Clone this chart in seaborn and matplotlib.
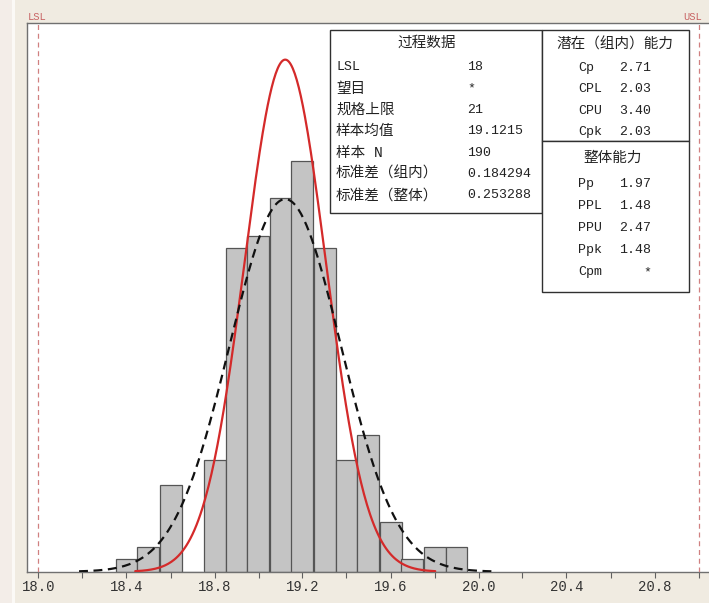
import numpy as np
import pandas as pd
import seaborn as sns
import matplotlib.pyplot as plt
from matplotlib.patches import Rectangle

# ── data ──────────────────────────────────────────────────────────────────────
bin_edges = [18.35, 18.45, 18.55, 18.65, 18.75, 18.85, 18.95, 19.05, 19.15,
             19.25, 19.35, 19.45, 19.55, 19.65, 19.75, 19.85, 19.95]
counts = [1, 2, 7, 0, 9, 26, 27, 30, 33, 26, 9, 11, 4, 1, 2, 2]

lsl, usl = 18.0, 21.0
mean = 19.1215
n_samples = 190
sd_within = 0.184294
sd_overall = 0.253288

proc_title = "过程数据"
proc_labels = ["LSL", "望目", "规格上限", "样本均值", "样本 N", "标准差（组内）", "标准差（整体）"]
proc_values = ["18", "*", "21", "19.1215", "190", "0.184294", "0.253288"]

within_title = "潜在（组内）能力"
within_labels = ["Cp", "CPL", "CPU", "Cpk"]
within_values = ["2.71", "2.03", "3.40", "2.03"]

overall_title = "整体能力"
overall_labels = ["Pp", "PPL", "PPU", "Ppk", "Cpm"]
overall_values = ["1.97", "1.48", "2.47", "1.48", "*"]

major_ticks = [18.0, 18.4, 18.8, 19.2, 19.6, 20.0, 20.4, 20.8]
minor_ticks = [18.2, 18.6, 19.0, 19.4, 19.8, 20.2, 20.6, 21.0]

# ── style ─────────────────────────────────────────────────────────────────────
sns.set_theme(style="white")
plt.rcParams['font.family'] = ['Liberation Mono', 'Noto Sans CJK SC', 'DejaVu Sans']
BG = "#f0ebe1"
TXT = "#222222"
W, H = 709, 603


def fx(px):
    return px / W


def fy(py):
    return 1 - py / H


fig = plt.figure(figsize=(W / 100, H / 100), dpi=100, facecolor=BG)

# strip of a neighbouring window on the far left
fig.add_artist(Rectangle((0, 0), fx(12), 1, transform=fig.transFigure,
                         facecolor="#f3ede8", edgecolor="none", zorder=1))
fig.add_artist(Rectangle((fx(12), 0), fx(3), 1, transform=fig.transFigure,
                         facecolor="#fbf9f6", edgecolor="none", zorder=1))

# axes: 18.0 sits at x=38.5 px, 220 px per unit
x0_px, x1_px = 27, 712
top_px, base_px = 23, 571.7
ax = fig.add_axes([fx(x0_px), fy(base_px), fx(x1_px - x0_px), (base_px - top_px) / H])
ax.set_facecolor("white")
ax.set_xlim(18.0 - (38.5 - x0_px) / 220, 18.0 + (x1_px - 38.5) / 220)
ax.set_ylim(0, (base_px - top_px) / 12.45)

# ── histogram ─────────────────────────────────────────────────────────────────
centers = [(a + b) / 2 for a, b in zip(bin_edges[:-1], bin_edges[1:])]
hist_df = pd.DataFrame({"x": centers, "n": counts})
sns.histplot(data=hist_df, x="x", weights="n", bins=bin_edges, ax=ax,
             color="#c4c4c4", edgecolor="#555555", linewidth=0.9, alpha=1.0)

# ── fitted normal curves ──────────────────────────────────────────────────────
bw = bin_edges[1] - bin_edges[0]


def normal_curve(sd):
    xs = np.linspace(mean - 3.7 * sd, mean + 3.7 * sd, 300)
    ys = n_samples * bw * np.exp(-0.5 * ((xs - mean) / sd) ** 2) / (sd * np.sqrt(2 * np.pi))
    return pd.DataFrame({"x": xs, "y": ys})


sns.lineplot(data=normal_curve(sd_within), x="x", y="y", ax=ax,
             color="#d42a2a", linewidth=1.6, zorder=4)
sns.lineplot(data=normal_curve(sd_overall), x="x", y="y", ax=ax,
             color="#111111", linewidth=1.6, linestyle=(0, (4, 2.5)), zorder=5)

# spec limits
for v in (lsl, usl):
    ax.axvline(v, color="#d08080", linewidth=0.9, linestyle=(0, (4, 3)), zorder=3)

# ── axes cosmetics ────────────────────────────────────────────────────────────
for s in ax.spines.values():
    s.set_color("#707070")
    s.set_linewidth(1.0)
ax.set_xlabel("")
ax.set_ylabel("")
ax.set_yticks([])
ax.set_xticks(major_ticks)
ax.set_xticklabels([f"{t:.1f}" for t in major_ticks])
ax.set_xticks(minor_ticks, minor=True)
ax.tick_params(axis="x", which="both", direction="out", length=4, width=0.8,
               color="#606060", bottom=True, labelsize=10, labelcolor="#333333", pad=2)

fig.text(fx(28), fy(17), "LSL", fontsize=7.5, color="#c86464", va="center", ha="left")
fig.text(fx(683), fy(17), "USL", fontsize=7.5, color="#c86464", va="center", ha="left")

# ── text boxes ────────────────────────────────────────────────────────────────
def box(x0, y0, x1, y1):
    fig.add_artist(Rectangle((fx(x0), fy(y1)), fx(x1 - x0), (y1 - y0) / H,
                             transform=fig.transFigure, facecolor="white",
                             edgecolor="#303030", linewidth=1.0, zorder=6))


box(330, 30, 542, 213)
box(542, 30, 689, 141)
box(542, 141, 689, 292)

CJK = 10.5
MONO = 9.5

fig.text(fx(427), fy(43), proc_title, fontsize=CJK, color=TXT, ha="center", va="center", zorder=7)
for i, (lab, val) in enumerate(zip(proc_labels, proc_values)):
    y = 67.5 + i * 21.3
    fig.text(fx(336), fy(y), lab, fontsize=CJK if not lab.isascii() else MONO,
             color=TXT, ha="left", va="center", zorder=7)
    fig.text(fx(467), fy(y), val, fontsize=MONO, color=TXT, ha="left", va="center", zorder=7)

fig.text(fx(615), fy(45), within_title, fontsize=CJK, color=TXT, ha="center", va="center", zorder=7)
for i, (lab, val) in enumerate(zip(within_labels, within_values)):
    y = 68 + i * 21.3
    fig.text(fx(578), fy(y), lab, fontsize=MONO, color=TXT, ha="left", va="center", zorder=7)
    fig.text(fx(651), fy(y), val, fontsize=MONO, color=TXT, ha="right", va="center", zorder=7)

fig.text(fx(613), fy(158), overall_title, fontsize=CJK, color=TXT, ha="center", va="center", zorder=7)
for i, (lab, val) in enumerate(zip(overall_labels, overall_values)):
    y = 184 + i * 22
    fig.text(fx(578), fy(y), lab, fontsize=MONO, color=TXT, ha="left", va="center", zorder=7)
    fig.text(fx(651), fy(y), val, fontsize=MONO, color=TXT, ha="right", va="center", zorder=7)

fig.savefig("out.png", dpi=100, facecolor=BG)
